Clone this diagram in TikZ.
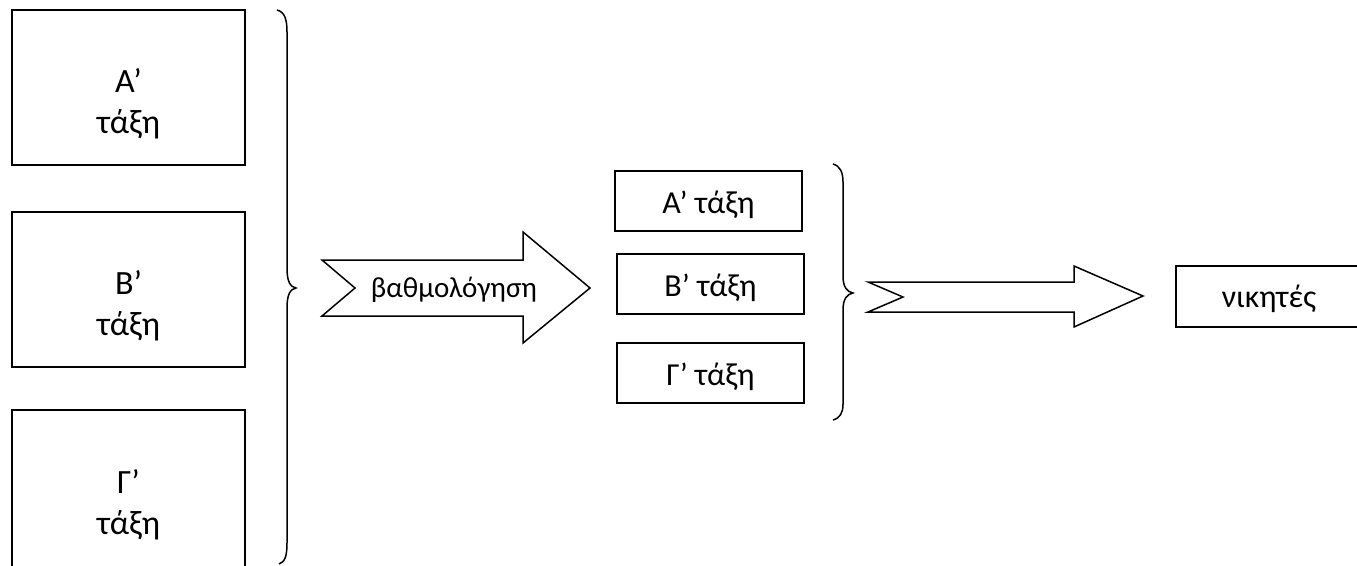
\documentclass[tikz,border=0pt]{standalone}
\usepackage{fontspec}
\setmainfont{Carlito}
\begin{document}
\begin{tikzpicture}[x=1pt,y=-1pt,
  frame/.style={draw, line width=1.5pt, inner sep=0pt},
  bigbox/.style={frame, minimum width=233pt, minimum height=155pt},
  midbox/.style={frame, minimum width=187pt, minimum height=60pt},
  bigtxt/.style={font=\fontsize{34}{41}\selectfont, align=center, inner sep=0pt},
  txt/.style={font=\fontsize{32}{40}\selectfont, align=center, inner sep=0pt},
  smalltxt/.style={font=\fontsize{29}{32}\selectfont, inner sep=0pt},
  shape line/.style={draw, line width=1.5pt, line join=miter},
  bracket/.style={draw, line width=1.5pt}]
\useasboundingbox (0,0) rectangle (1357,565);
\clip (0,0) rectangle (1357,565);
% left boxes
\node[bigbox] (A) at (128.5,87.5) {};
\node[bigtxt] (At) at (128.5,104) {Α’\\τάξη};
\node[bigbox] (B) at (128.5,289.5) {};
\node[bigtxt] (Bt) at (128.5,306) {Β’\\τάξη};
\node[bigbox, minimum height=165pt] (G) at (128.5,492.5) {};
\node[bigtxt] (Gt) at (128.5,505) {Γ’\\τάξη};
% big brace
\draw[bracket] (277,10) .. controls (285,12) and (287,20) .. (287,32)
  -- (287,268) .. controls (287,281) and (290,287) .. (296,288)
  .. controls (290,289) and (287,295) .. (287,308)
  -- (287,543) .. controls (287,556) and (285,562) .. (279,564);
% arrow 1
\draw[shape line] (322,260) -- (523,260) -- (523,232) -- (590,288) -- (523,343) -- (523,316) -- (322,316) -- (355,288) -- cycle;
\node[smalltxt] (score) at (454,290) {βαθμολόγηση};
% middle boxes
\node[midbox] (A2) at (708.5,201) {};
\node[txt] (A2t) at (708.5,205) {Α’ τάξη};
\node[midbox] (B2) at (710.5,284) {};
\node[txt] (B2t) at (710.5,288) {Β’ τάξη};
\node[midbox] (G2) at (710.5,373) {};
\node[txt] (G2t) at (710.5,377) {Γ’ τάξη};
% second brace
\draw[bracket] (833,164) .. controls (840,166) and (843,172) .. (843,182)
  -- (843,276) .. controls (843,287) and (847,292) .. (853,293)
  .. controls (847,294) and (843,299) .. (843,310)
  -- (843,404) .. controls (843,413) and (840,418) .. (833,420);
% arrow 2
\draw[shape line] (868,282) -- (1074,282) -- (1074,266) -- (1143,296) -- (1074,327) -- (1074,312) -- (868,312) -- (903,297) -- cycle;
% winners box
\node[frame, minimum width=220pt, minimum height=61pt] (W) at (1286,296.5) {};
\node[txt] (Wt) at (1269,299) {νικητές};
\end{tikzpicture}
\end{document}
